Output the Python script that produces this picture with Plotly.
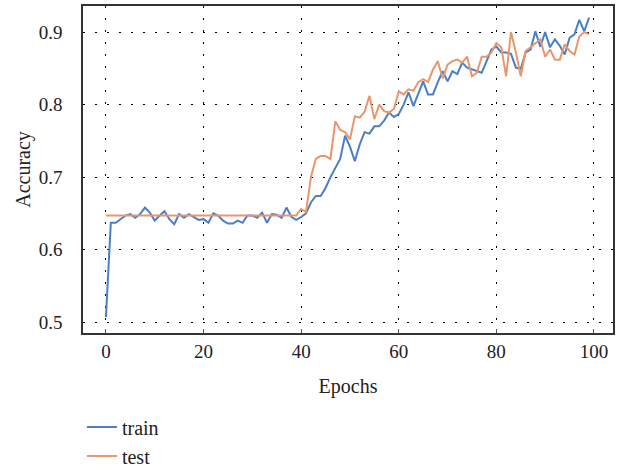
import plotly.graph_objects as go

epochs = list(range(100))

train_acc = [
    0.507, 0.637, 0.637, 0.642, 0.647, 0.649, 0.644, 0.649, 0.658, 0.651,
    0.640, 0.647, 0.653, 0.642, 0.635, 0.649, 0.644, 0.649, 0.645, 0.641,
    0.642, 0.637, 0.650, 0.647, 0.640, 0.636, 0.636, 0.640, 0.637, 0.647,
    0.647, 0.644, 0.651, 0.637, 0.649, 0.648, 0.644, 0.658, 0.645, 0.641,
    0.645, 0.650, 0.665, 0.674, 0.674, 0.685, 0.700, 0.712, 0.725, 0.757,
    0.742, 0.722, 0.745, 0.762, 0.760, 0.770, 0.770, 0.778, 0.789, 0.783,
    0.787, 0.800, 0.817, 0.798, 0.815, 0.832, 0.814, 0.814, 0.831, 0.846,
    0.832, 0.846, 0.842, 0.858, 0.851, 0.849, 0.847, 0.844, 0.860, 0.876,
    0.880, 0.872, 0.872, 0.870, 0.851, 0.849, 0.872, 0.876, 0.901, 0.880,
    0.900, 0.879, 0.890, 0.881, 0.869, 0.892, 0.897, 0.917, 0.901, 0.920,
]

test_acc = [0.647] * 40 + [
    0.656, 0.652, 0.700, 0.725, 0.729, 0.729, 0.725, 0.777, 0.765, 0.762,
    0.752, 0.784, 0.782, 0.790, 0.812, 0.780, 0.800, 0.791, 0.789, 0.794,
    0.818, 0.814, 0.821, 0.819, 0.831, 0.835, 0.831, 0.848, 0.860, 0.836,
    0.855, 0.860, 0.862, 0.858, 0.866, 0.839, 0.844, 0.866, 0.866, 0.872,
    0.885, 0.879, 0.839, 0.900, 0.872, 0.839, 0.874, 0.879, 0.885, 0.890,
    0.866, 0.876, 0.862, 0.862, 0.883, 0.874, 0.869, 0.894, 0.900, 0.897,
]

x_ticks = [0, 20, 40, 60, 80, 100]
y_ticks = [0.5, 0.6, 0.7, 0.8, 0.9]

FONT = "Liberation Serif"

fig = go.Figure()
fig.add_trace(go.Scatter(x=epochs, y=train_acc, mode="lines", name="train",
                         legendgroup="a",
                         line=dict(color="#4a7fc7", width=2)))
fig.add_trace(go.Scatter(x=epochs, y=test_acc, mode="lines", name="test",
                         legendgroup="b",
                         line=dict(color="#e8966c", width=2)))

grid_dash = "1.5px,10.5px"

fig.update_layout(
    width=625, height=470,
    margin=dict(l=83, r=12, t=6, b=137, autoexpand=False),
    paper_bgcolor="white", plot_bgcolor="white",
    font=dict(family=FONT, size=19, color="#222"),
    showlegend=True,
    legend=dict(x=-0.002, xanchor="left", y=-0.228, yanchor="top",
                traceorder="grouped", tracegroupgap=0,
                font=dict(family=FONT, size=20, color="#222"),
                bgcolor="rgba(0,0,0,0)"),
    xaxis=dict(
        range=[-4.7, 103.9], tickvals=x_ticks,
        showgrid=True, gridcolor="black", gridwidth=1, griddash=grid_dash,
        zeroline=False, showline=True, linecolor="#333", linewidth=1.5, mirror=True,
        ticks="inside", ticklen=4, tickcolor="#555",
        title=dict(text="Epochs", standoff=18, font=dict(family=FONT, size=20)),
        tickfont=dict(family=FONT, size=19),
    ),
    yaxis=dict(
        range=[0.485, 0.936], tickvals=y_ticks, tickformat=".1f",
        showgrid=True, gridcolor="black", gridwidth=1, griddash=grid_dash,
        zeroline=False, showline=True, linecolor="#333", linewidth=1.5, mirror=True,
        ticks="outside", ticklen=15, tickcolor="rgba(0,0,0,0)",
        title=dict(text="Accuracy", standoff=3, font=dict(family=FONT, size=20)),
        tickfont=dict(family=FONT, size=19),
    ),
)

fig.write_html("out.html")
